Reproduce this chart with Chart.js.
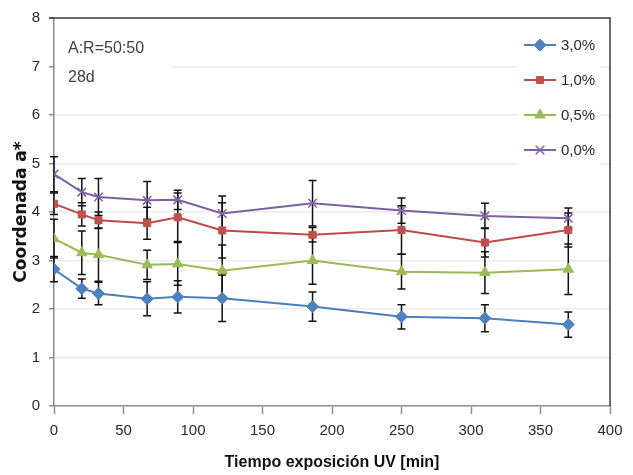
<!DOCTYPE html>
<html>
<head>
<meta charset="utf-8">
<script src="https://cdn.jsdelivr.net/npm/chart.js"></script>
<style>
  body { margin: 0; background: #ffffff; }
  canvas { display: block; }
</style>
</head>
<body>
<canvas id="myChart" width="633" height="475"></canvas>
<script>
// tiempo de exposicion (min)
var tiempo = [0, 20, 32, 67, 89, 121, 186, 250, 310, 370];

// coordenada a* por concentracion, con su desviacion
var serie30 = [2.82, 2.42, 2.32, 2.21, 2.25, 2.22, 2.05, 1.84, 1.81, 1.68];
var err30   = [0.26, 0.20, 0.23, 0.35, 0.33, 0.48, 0.30, 0.25, 0.28, 0.26];
var serie10 = [4.17, 3.95, 3.83, 3.77, 3.89, 3.62, 3.53, 3.63, 3.37, 3.63];
var err10   = [0.22, 0.24, 0.17, 0.33, 0.50, 0.57, 0.15, 0.50, 0.30, 0.35];
var serie05 = [3.45, 3.16, 3.12, 2.91, 2.93, 2.79, 3.00, 2.77, 2.75, 2.82];
var err05   = [0.40, 0.45, 0.55, 0.30, 0.44, 0.53, 0.49, 0.36, 0.43, 0.52];
var serie00 = [4.78, 4.41, 4.31, 4.24, 4.25, 3.97, 4.18, 4.03, 3.92, 3.87];
var err00   = [0.36, 0.28, 0.38, 0.39, 0.20, 0.36, 0.47, 0.26, 0.26, 0.21];

var etiquetas = ['3,0%', '1,0%', '0,5%', '0,0%'];
var xTicks = [0, 50, 100, 150, 200, 250, 300, 350, 400];
var yTicks = [0, 1, 2, 3, 4, 5, 6, 7, 8];
var notas = ['A:R=50:50', '28d'];

function toPoints(values) {
  return tiempo.map(function (t, i) { return { x: t, y: values[i] }; });
}

function makeDataset(label, values, errors, line, fill, style, radius) {
  return {
    label: label,
    data: toPoints(values),
    errors: errors,
    showLine: true,
    borderColor: line,
    borderWidth: 2,
    backgroundColor: fill,
    pointStyle: style,
    pointRadius: radius,
    pointBackgroundColor: fill,
    pointBorderColor: fill,
    pointBorderWidth: style === 'crossRot' ? 1.6 : 1
  };
}

// error bars, drawn under the lines and markers
var errorBars = {
  id: 'errorBars',
  beforeDatasetsDraw: function (chart) {
    var ctx = chart.ctx;
    var xs = chart.scales.x, ys = chart.scales.y;
    ctx.save();
    ctx.strokeStyle = '#111111';
    ctx.lineWidth = 1.5;
    chart.data.datasets.forEach(function (ds) {
      ds.data.forEach(function (p, j) {
        var e = ds.errors[j];
        var x = xs.getPixelForValue(p.x);
        var y1 = ys.getPixelForValue(p.y + e);
        var y2 = ys.getPixelForValue(p.y - e);
        ctx.beginPath();
        ctx.moveTo(x, y1); ctx.lineTo(x, y2);
        ctx.moveTo(x - 4, y1); ctx.lineTo(x + 4, y1);
        ctx.moveTo(x - 4, y2); ctx.lineTo(x + 4, y2);
        ctx.stroke();
      });
    });
    ctx.restore();
  }
};

// frame, text box and legend inside the plot
var extras = {
  id: 'extras',
  afterDraw: function (chart) {
    var ctx = chart.ctx;
    var a = chart.chartArea;
    ctx.save();

    // dark frame on top and right
    ctx.strokeStyle = '#3a3a3a';
    ctx.lineWidth = 1.5;
    ctx.beginPath();
    ctx.moveTo(a.left - 5, a.top);
    ctx.lineTo(a.right, a.top);
    ctx.lineTo(a.right, a.bottom);
    ctx.stroke();

    // text box
    ctx.fillStyle = '#ffffff';
    ctx.fillRect(a.left + 1, a.top + 14, 116, 80);
    ctx.fillStyle = '#404040';
    ctx.font = '16px "Liberation Sans", Arial, sans-serif';
    ctx.textBaseline = 'middle';
    ctx.textAlign = 'left';
    ctx.fillText(notas[0], a.left + 14, a.top + 31);
    ctx.fillText(notas[1], a.left + 14, a.top + 60);

    // legend
    ctx.fillStyle = '#ffffff';
    ctx.fillRect(a.right - 92, a.top + 9, 82, 146);
    chart.data.datasets.forEach(function (ds, i) {
      var y = a.top + 27 + i * 35;
      ctx.strokeStyle = ds.borderColor;
      ctx.lineWidth = 2;
      ctx.beginPath();
      ctx.moveTo(a.right - 86, y);
      ctx.lineTo(a.right - 54, y);
      ctx.stroke();
      ctx.fillStyle = ds.pointBackgroundColor;
      ctx.strokeStyle = ds.pointBorderColor;
      ctx.lineWidth = ds.pointBorderWidth;
      Chart.helpers.drawPoint(ctx, {
        pointStyle: ds.pointStyle, rotation: 0,
        radius: ds.pointRadius, borderWidth: ds.pointBorderWidth
      }, a.right - 70, y);
      ctx.fillStyle = '#2b2b2b';
      ctx.font = '15px "Liberation Sans", Arial, sans-serif';
      ctx.textAlign = 'left';
      ctx.textBaseline = 'middle';
      ctx.fillText(ds.label, a.right - 49, y + 1);
    });
    ctx.restore();
  }
};

var ctx = document.getElementById('myChart').getContext('2d');
var myChart = new Chart(ctx, {
  type: 'scatter',
  data: {
    datasets: [
      makeDataset(etiquetas[0], serie30, err30, '#4a7ebb', '#4f81bd', 'rectRot', 6),
      makeDataset(etiquetas[1], serie10, err10, '#be4b48', '#c0504d', 'rect', 5),
      makeDataset(etiquetas[2], serie05, err05, '#98b954', '#9bbb59', 'triangle', 6),
      makeDataset(etiquetas[3], serie00, err00, '#7d60a0', '#8064a2', 'crossRot', 6)
    ]
  },
  options: {
    responsive: false,
    animation: false,
    layout: { padding: { top: 16, right: 23, left: 0, bottom: 0 } },
    plugins: {
      legend: { display: false },
      tooltip: { enabled: false }
    },
    scales: {
      x: {
        type: 'linear',
        min: xTicks[0],
        max: xTicks[xTicks.length - 1],
        afterBuildTicks: function (s) { s.ticks = xTicks.map(function (v) { return { value: v }; }); },
        afterFit: function (s) { s.height = 69; },
        ticks: {
          color: '#26263f',
          font: { family: '"Liberation Sans", Arial, sans-serif', size: 15 },
          padding: 8,
          maxRotation: 0
        },
        grid: { drawOnChartArea: false, drawTicks: true, tickLength: 8, tickColor: '#8c8c8c', tickWidth: 1.5 },
        border: { color: '#8c8c8c', width: 1.5 },
        title: {
          display: true,
          text: 'Tiempo exposición UV [min]',
          color: '#111111',
          font: { family: '"Liberation Sans", Arial, sans-serif', size: 16, weight: 'bold' },
          padding: { top: 0, bottom: 3 }
        }
      },
      y: {
        min: yTicks[0],
        max: yTicks[yTicks.length - 1],
        afterBuildTicks: function (s) { s.ticks = yTicks.map(function (v) { return { value: v }; }); },
        afterFit: function (s) { s.width = 54; },
        ticks: {
          color: '#26263f',
          font: { family: '"Liberation Sans", Arial, sans-serif', size: 15 },
          padding: 9
        },
        grid: { color: '#ececec', lineWidth: 1.5, tickLength: 5, tickColor: '#8c8c8c', tickWidth: 1.5 },
        border: { color: '#8c8c8c', width: 1.5 },
        title: {
          display: true,
          text: 'Coordenada a*',
          color: '#111111',
          font: { family: '"DejaVu Sans", sans-serif', size: 17, weight: 'bold' },
          padding: { top: 11, bottom: 0 }
        }
      }
    }
  },
  plugins: [errorBars, extras]
});
</script>
</body>
</html>
